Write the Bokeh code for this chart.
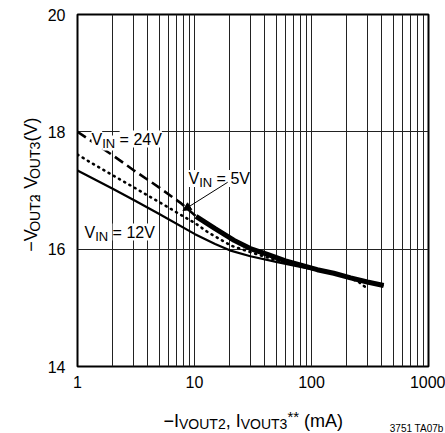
from bokeh.plotting import figure
from bokeh.models import Range1d, FixedTicker, PrintfTickFormatter, Label, Arrow, NormalHead
from bokeh.layouts import column, row
from bokeh.embed import file_html
from bokeh.resources import INLINE
import math

# ---------------- data ----------------
x_ticks = [1, 10, 100, 1000]
x_minor = [m * d for d in (1, 10, 100) for m in range(2, 10)]
y_ticks = [14, 16, 18, 20]

vin24_x = [1, 2, 3, 5, 7.7, 10.3, 15, 21.8, 30, 42, 60, 112, 155, 216, 300, 414]
vin24_y = [18.0, 17.6, 17.35, 17.05, 16.78, 16.56, 16.35, 16.15, 16.01, 15.91, 15.8, 15.65, 15.59, 15.51, 15.44, 15.38]

vin5_x = [1, 2, 3, 5, 7, 10, 13, 20.5, 30, 45, 70, 100, 150, 200, 250, 290]
vin5_y = [17.61, 17.26, 17.06, 16.80, 16.63, 16.45, 16.29, 16.06, 15.95, 15.84, 15.74, 15.67, 15.59, 15.52, 15.45, 15.35]

vin12_x = [1, 2, 3.08, 5, 10, 15, 20, 30, 51, 100, 200, 414]
vin12_y = [17.34, 17.03, 16.83, 16.60, 16.26, 16.09, 15.98, 15.88, 15.78, 15.66, 15.53, 15.38]

split_24 = 10.3   # 24V curve drawn dashed below, heavy solid above

# arrow for the "VIN = 5V" callout (data coordinates)
arrow_from = (19.2, 17.14)
arrow_to = (7.96, 16.66)

FONT = "Liberation Sans"

# layout (page pixels): frame spans x 76..428, y 14..366
LEFT_W = 44
MAIN_W = 445 - LEFT_W
MAIN_H = 396
BOTTOM_H = 433 - MAIN_H

p = figure(width=MAIN_W, height=MAIN_H, x_axis_type="log",
           x_range=Range1d(1, 1000), y_range=Range1d(14, 20),
           output_backend="svg", toolbar_location=None,
           min_border_left=76 - LEFT_W, min_border_right=445 - 428,
           min_border_top=14, min_border_bottom=MAIN_H - 366)
p.background_fill_color = "white"
p.border_fill_color = "white"
p.outline_line_color = "black"
p.outline_line_width = 2

xt = FixedTicker(ticks=x_ticks, minor_ticks=x_minor)
yt = FixedTicker(ticks=y_ticks)
p.xaxis.ticker = xt
p.yaxis.ticker = yt
p.xgrid.ticker = xt
p.ygrid.ticker = yt
p.xaxis.formatter = PrintfTickFormatter(format="%d")
p.yaxis.formatter = PrintfTickFormatter(format="%d")

for ax in (p.xaxis, p.yaxis):
    ax.axis_line_color = None
    ax.major_tick_out = 0
    ax.major_tick_in = 0
    ax.minor_tick_out = 0
    ax.minor_tick_in = 0
    ax.major_label_text_font = FONT
    ax.major_label_text_font_size = "16px"
    ax.major_label_text_color = "black"
p.xaxis.major_label_standoff = 9
p.yaxis.major_label_standoff = 12

p.xgrid.grid_line_color = "#222222"
p.xgrid.grid_line_width = 1
p.xgrid.minor_grid_line_color = "#222222"
p.xgrid.minor_grid_line_width = 1
p.ygrid.grid_line_color = "#222222"
p.ygrid.grid_line_width = 1

# ---------------- curves ----------------
p.line(vin12_x, vin12_y, line_color="black", line_width=2.2)
p.line(vin5_x, vin5_y, line_color="black", line_width=2.6, line_dash="1 5", line_cap="round")
lo = [(x, y) for x, y in zip(vin24_x, vin24_y) if x <= split_24]
hi = [(x, y) for x, y in zip(vin24_x, vin24_y) if x >= split_24]
p.line([a for a, _ in lo], [b for _, b in lo], line_color="black", line_width=2.6, line_dash="10 5")
p.line([a for a, _ in hi], [b for _, b in hi], line_color="black", line_width=5)

# ---------------- side figures for the axis titles ----------------
def aux(w, h, x0, x1, y_top, y_bottom):
    f = figure(width=w, height=h, x_range=Range1d(x0, x1), y_range=Range1d(y_bottom, y_top),
               output_backend="svg", toolbar_location=None,
               x_axis_location=None, y_axis_location=None,
               min_border=0, min_border_left=0, min_border_right=0,
               min_border_top=0, min_border_bottom=0)
    f.outline_line_color = None
    f.grid.visible = False
    f.background_fill_color = "white"
    f.border_fill_color = "white"
    return f


yfig = aux(LEFT_W, MAIN_H, 0, LEFT_W, 0, MAIN_H)
xfig = aux(445, BOTTOM_H, 0, 445, MAIN_H, 433)

# ---------------- text helpers ----------------
W = {'V': 667, 'I': 278, 'N': 722, ' ': 278, '=': 584, 'O': 778, 'U': 722, 'T': 611,
     ',': 278, '(': 333, ')': 333, 'm': 833, 'A': 667, '*': 389, '\u2212': 584}
for d in "0123456789":
    W[d] = 556


def width(s, size):
    return sum(W.get(c, 556) for c in s) * size / 1000.0


def put_main(text, px, py, size, bg=None):
    # px, py: page-pixel baseline anchor, as offset from the frame's top-left (x=1, y=20)
    kw = dict(background_fill_color=bg, padding=0) if bg else {}
    p.add_layout(Label(x=1, y=20, x_offset=px - 76, y_offset=-(py - 14), text=text,
                       text_font=FONT, text_font_size=f"{size}px", text_color="black",
                       text_baseline="alphabetic", text_align="left", **kw))


def put_aux(fig, text, px, py, size, angle=0.0, align="left", baseline="alphabetic"):
    fig.add_layout(Label(x=px, y=py, text=text, text_font=FONT, text_font_size=f"{size}px",
                         text_color="black", text_baseline=baseline, text_align=align,
                         angle=angle))


def run(pieces, x0, base, draw):
    x = x0
    for txt, size, dy in pieces:
        stripped = txt.lstrip(" ")
        x += width(txt[:len(txt) - len(stripped)], size)
        draw(stripped, x, base + dy, size)
        x += width(stripped, size)


# curve callouts
callout = lambda t, x, y, s: put_main(t, x, y, s, bg="white")
run([("V", 16, 0), ("IN", 13, 4), (" = 24V", 16, 0)], 90, 138.5, callout)
run([("V", 16, 0), ("IN", 13, 4), (" = 5V", 16, 0)], 187, 178, callout)
run([("V", 16, 0), ("IN", 13, 4), (" = 12V", 16, 0)], 83, 231.5, callout)

p.add_layout(Arrow(end=NormalHead(size=8, fill_color="black", line_color="black", line_width=1),
                   x_start=arrow_from[0], y_start=arrow_from[1],
                   x_end=arrow_to[0], y_end=arrow_to[1],
                   line_color="black", line_width=1))

# x-axis title
run([("\u2212I", 18, 0), ("VOUT2", 14, 3), (", I", 18, 0), ("VOUT3", 14, 3),
     ("**", 15, -4), (" (mA)", 18, 0)], 163, 420,
    lambda t, x, y, s: put_aux(xfig, t, x, y, s))

# y-axis title (rotated, reads bottom to top); anchored at the vertical middle of the glyphs
yy = 267
for txt, size, mid in [("\u2212V", 18, 30), ("OUT2", 14, 34), (", V", 18, 30), ("OUT3", 14, 34), (" (V)", 18, 30)]:
    stripped = txt.lstrip(" ")
    yy -= width(txt[:len(txt) - len(stripped)], size)
    put_aux(yfig, stripped, mid, yy, size, angle=math.pi / 2, baseline="middle")
    yy -= width(stripped, size)

# figure code
put_aux(xfig, "3751 TA07b", 443, 428, 10, align="right")

layout = column(row(yfig, p), xfig)
open("out.html", "w").write(file_html(layout, INLINE))
